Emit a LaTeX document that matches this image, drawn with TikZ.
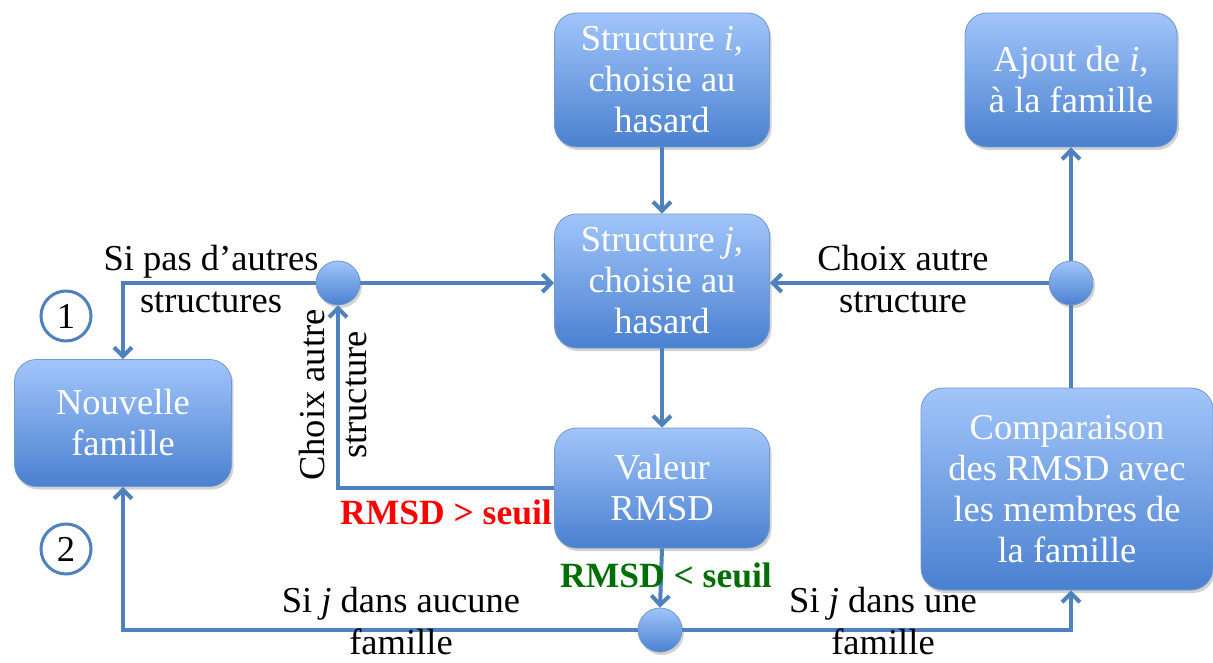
\documentclass[tikz,border=0pt]{standalone}
\usepackage{fontspec}
\setmainfont{Liberation Serif}
\usetikzlibrary{arrows.meta,shadows,positioning}
\definecolor{linkblue}{HTML}{4F81BD}
\definecolor{boxtop}{HTML}{A1C5FA}
\definecolor{boxbot}{HTML}{4A80D0}
\definecolor{okgreen}{HTML}{006E00}
\tikzset{
  stepbox/.style={rounded corners=22pt, top color=boxtop, bottom color=boxbot,
    draw=linkblue!80, line width=0.8pt, text=white, align=center,
    font=\fontsize{36.5}{41}\selectfont, inner sep=0pt,
    drop shadow={opacity=0.35, shadow xshift=2pt, shadow yshift=-3pt}},
  junction/.style={circle, minimum size=44pt, inner sep=0pt, top color=boxtop,
    bottom color=boxbot, draw=linkblue!80, line width=0.8pt,
    drop shadow={opacity=0.35, shadow xshift=2pt, shadow yshift=-3pt}},
  numdot/.style={circle, minimum size=50pt, inner sep=0pt, draw=linkblue,
    line width=3pt, fill=white, font=\fontsize{36.5}{41}\selectfont},
  link/.style={draw=linkblue, line width=4pt},
  arr/.style={link, -{Straight Barb[length=9pt,width=18pt]}},
  lbl/.style={align=center, font=\fontsize{36.5}{42}\selectfont},
  warn/.style={font=\fontsize{35.5}{41}\selectfont\bfseries}
}
\begin{document}
\begin{tikzpicture}[x=1pt,y=-1pt]
\useasboundingbox[fill=white] (0,0) rectangle (1213,663);

% process boxes
\node[stepbox, minimum width=215pt, minimum height=134pt] (si) at (662,80)
  {Structure \textit{i},\\choisie au\\hasard};
\node[stepbox, minimum width=215pt, minimum height=134pt] (sj) at (662,281)
  {Structure \textit{j},\\choisie au\\hasard};
\node[stepbox, minimum width=215pt, minimum height=120pt] (val) at (662,488)
  {Valeur\\RMSD};
\node[stepbox, minimum width=217pt, minimum height=127pt] (nf) at (123,423)
  {Nouvelle\\famille};
\node[stepbox, minimum width=212pt, minimum height=134pt] (aj) at (1071,80)
  {Ajout de \textit{i},\\à la famille};
\node[stepbox, minimum width=292pt, minimum height=202pt] (comp) at (1067,489)
  {Comparaison\\des RMSD avec\\les membres de\\la famille};

% branching points
\node[junction] (cl) at (338,283) {};
\node[junction] (cr) at (1071,283) {};
\node[junction] (cb) at (660,630) {};

% numbered markers
\node[numdot] (n1) at (66,316) {1};
\node[numdot] (n2) at (66,549) {2};

% connectors
\draw[arr] (si) -- (sj);
\draw[arr] (sj) -- (val);
\draw[arr] (cl.east) -- (cl.east -| sj.west);
\draw[arr] (cl.west) -| (nf.north);
\draw[arr] (val.west) -| (cl.south);
\draw[arr] (val.south) -- (cb.north);
\draw[arr] (cb.west) -| (nf.south);
\draw[arr] (cb.east) -| (cr |- comp.south);
\draw[link] (cr |- comp.north) -- (cr.south);
\draw[arr] (cr.north) -- (aj.south);
\draw[arr] (cr.west) -- (cr.west -| sj.east);

% labels
\node[lbl] (lsp) at (211,279) {Si pas d’autres\\structures};
\node[lbl] (lca) at (903,279) {Choix autre\\structure};
\node[lbl, rotate=90] (lcv) at (333,395) {Choix autre\\structure};
\node[warn, text=red] (lgt) at (446,512) {RMSD > seuil};
\node[warn, text=okgreen] (llt) at (666,575) {RMSD < seuil};
\node[lbl] (lna) at (401,621) {Si \textit{j} dans aucune\\famille};
\node[lbl] (lnu) at (883,621) {Si \textit{j} dans une\\famille};
\end{tikzpicture}
\end{document}
